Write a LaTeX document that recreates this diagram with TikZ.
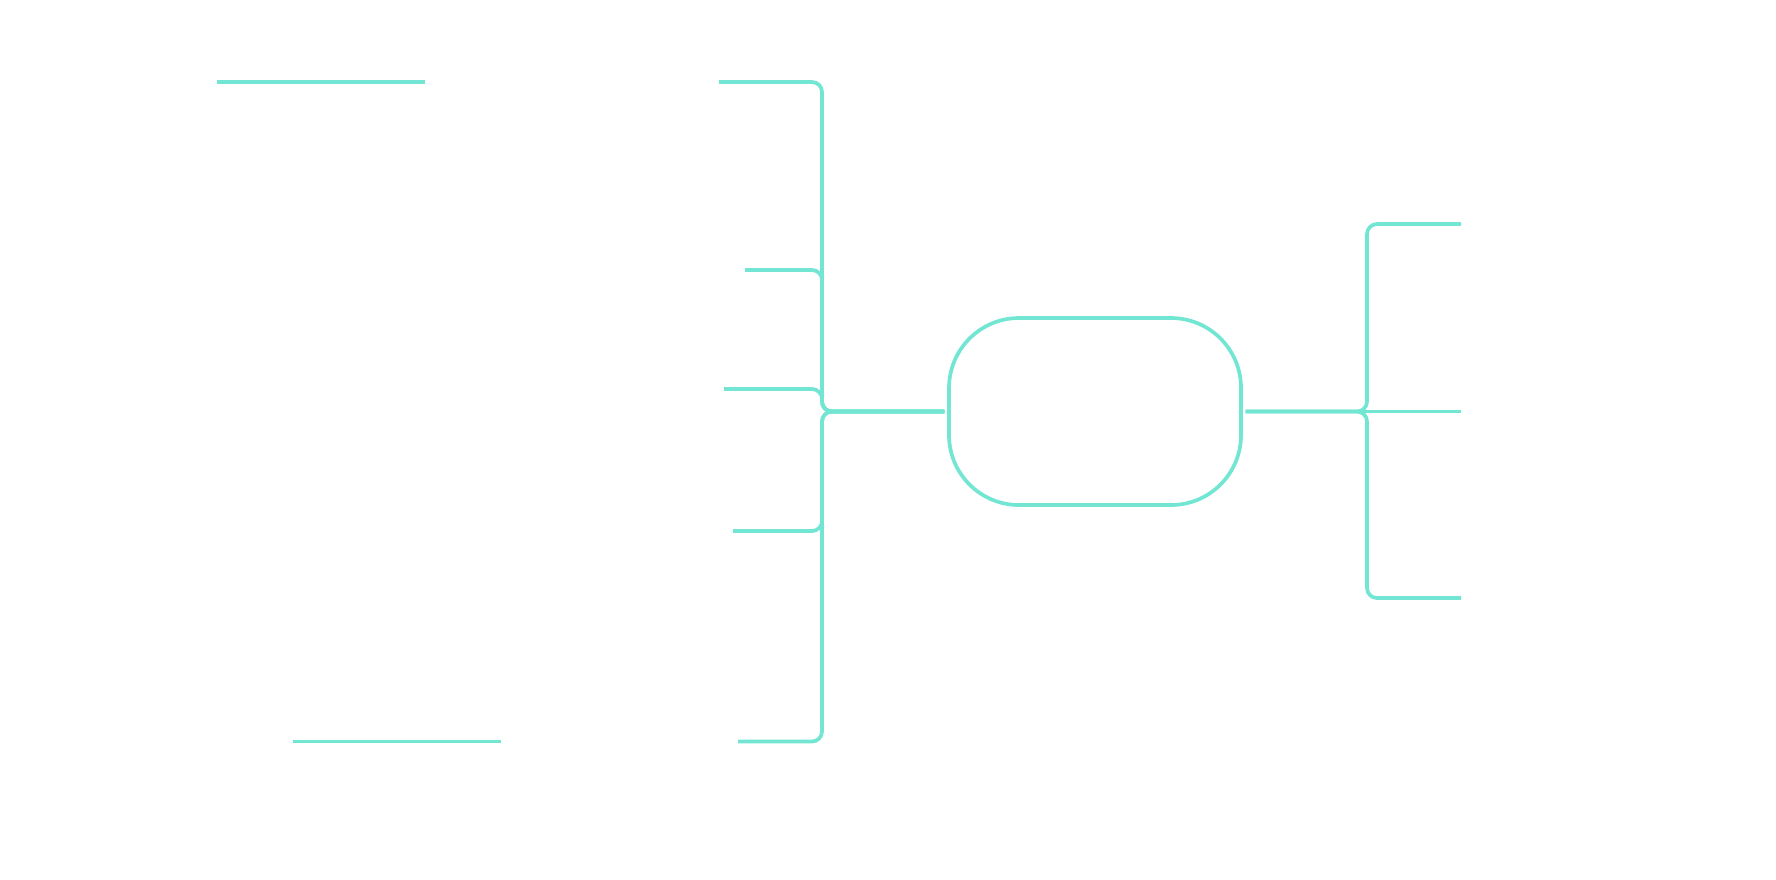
\documentclass[tikz,border=0pt]{standalone}
\usetikzlibrary{arrows}
\definecolor{mint}{HTML}{72E6D3}
\begin{document}
\begin{tikzpicture}[branch/.style={draw=mint, line width=1.05pt, rounded corners=0.1cm},
  hubbox/.style={draw=mint, line width=1.05pt, rounded corners=0.7cm, minimum width=2.92cm, minimum height=1.87cm, inner sep=0pt, outer sep=1.3pt}]
\useasboundingbox (0,0) rectangle (17.76,-8.79);
\node[hubbox] (hub) at (10.95,-4.115) {};
\coordinate (lj) at (8.22,-4.115);
\coordinate (rj) at (13.67,-4.115);
\coordinate (l1) at (7.19,-0.82);
\coordinate (l2) at (7.45,-2.70);
\coordinate (l3) at (7.24,-3.89);
\coordinate (l4) at (7.33,-5.31);
\coordinate (l5) at (7.38,-7.415);
\coordinate (r1) at (14.61,-2.24);
\coordinate (r2) at (14.61,-4.115);
\coordinate (r3) at (14.61,-5.98);
\coordinate (u1a) at (2.17,-0.82);
\coordinate (u1b) at (4.25,-0.82);
\coordinate (u5a) at (2.93,-7.415);
\coordinate (u5b) at (5.01,-7.415);
\foreach \n in {l1,l2,l3,l4,l5} \draw[branch] (hub.west) -- (lj) |- (\n);
\foreach \n in {r1,r3} \draw[branch] (hub.east) -- (rj) |- (\n);
\draw[branch] (hub.east) -- (r2);
\draw[branch] (u1a) -- (u1b);
\draw[branch] (u5a) -- (u5b);
\end{tikzpicture}
\end{document}
